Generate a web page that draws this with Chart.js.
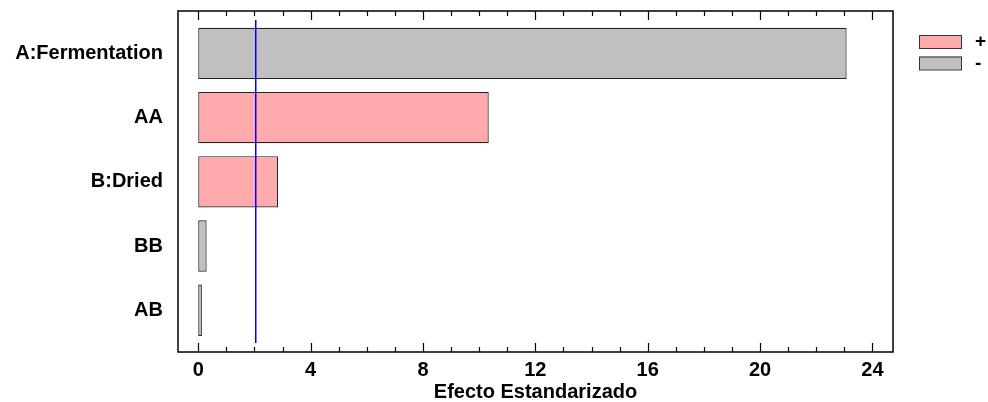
<!DOCTYPE html>
<html>
<head>
<meta charset="utf-8">
<script src="https://cdn.jsdelivr.net/npm/chart.js@4"></script>
<style>
  html, body { margin: 0; padding: 0; background: #fff; }
  #wrap { width: 988px; height: 402px; }
</style>
</head>
<body>
<div id="wrap"><canvas id="paretoChart" width="988" height="402"></canvas></div>
<script>
// factors, standardized effects (absolute) and their signs
const factors = ['A:Fermentation', 'AA', 'B:Dried', 'BB', 'AB'];
const effects = [23.08, 10.34, 2.84, 0.30, 0.13];
const signs = ['-', '+', '+', '-', '-'];
const criticalValue = 2.01;
const xTicks = [0, 4, 8, 12, 16, 20, 24];

const pinkColor = '#ffaaad';
const grayColor = '#c0c0c0';
const font = { family: 'Arial, "Liberation Sans", sans-serif', size: 20, weight: 'bold' };

// split into + and - datasets so each gets its own colour
const posData = [];
const negData = [];
factors.forEach(function(f, i) {
  if (signs[i] === '+') posData.push({ x: effects[i], y: i });
  else negData.push({ x: effects[i], y: i });
});

const framePlugin = {
  id: 'frame',
  afterDatasetsDraw(chart) {
    const ctx = chart.ctx;
    const a = chart.chartArea;
    const xs = chart.scales.x;
    ctx.save();
    // critical value line
    ctx.fillStyle = '#0000ff';
    const cx = Math.round(xs.getPixelForValue(criticalValue));
    ctx.fillRect(cx, a.top + 9, 1.5, a.bottom - a.top - 18);

    // frame
    ctx.strokeStyle = '#000';
    ctx.lineWidth = 1.5;
    ctx.strokeRect(a.left, a.top, a.right - a.left, a.bottom - a.top);

    // inward ticks, top and bottom
    ctx.lineWidth = 1.2;
    for (let v = 0; v <= 24; v++) {
      const px = Math.round(xs.getPixelForValue(v)) + 0.5;
      const len = (v % 4 === 0) ? 9 : 5;
      ctx.beginPath();
      ctx.moveTo(px, a.bottom);
      ctx.lineTo(px, a.bottom - len);
      ctx.moveTo(px, a.top);
      ctx.lineTo(px, a.top + len);
      ctx.stroke();
    }

    // legend
    const items = [{ label: '+', color: pinkColor }, { label: '-', color: grayColor }];
    ctx.font = 'bold 19px Arial, "Liberation Sans", sans-serif';
    ctx.textBaseline = 'middle';
    ctx.textAlign = 'left';
    items.forEach(function(it, i) {
      const y = 35 + i * 21.5;
      ctx.fillStyle = it.color;
      ctx.fillRect(919.5, y, 42, 13);
      ctx.strokeStyle = '#333';
      ctx.lineWidth = 1;
      ctx.strokeRect(919.5, y + 0.5, 42, 13);
      ctx.fillStyle = '#000';
      ctx.fillText(it.label, 975, y + 7);
    });
    ctx.restore();
  }
};

new Chart(document.getElementById('paretoChart'), {
  type: 'bar',
  data: {
    datasets: [
      {
        label: '+',
        data: posData,
        backgroundColor: pinkColor,
        borderColor: '#222',
        borderWidth: 1.2,
        borderSkipped: false
      },
      {
        label: '-',
        data: negData,
        backgroundColor: grayColor,
        borderColor: '#222',
        borderWidth: 1.2,
        borderSkipped: false
      }
    ]
  },
  options: {
    indexAxis: 'y',
    responsive: false,
    animation: false,
    grouped: false,
    barPercentage: 0.8,
    categoryPercentage: 1,
    layout: { padding: { top: 11, right: 95, left: 0, bottom: 0 } },
    plugins: {
      legend: { display: false },
      tooltip: { enabled: false }
    },
    scales: {
      x: {
        type: 'linear',
        min: -0.72,
        max: 24.73,
        grid: { display: false, drawTicks: false },
        border: { display: false },
        afterBuildTicks(scale) {
          scale.ticks = xTicks.map(function(v) { return { value: v }; });
        },
        afterFit(scale) { scale.height = 50; },
        ticks: { color: '#000', font: font, padding: 6, maxRotation: 0 },
        title: {
          display: true,
          text: 'Efecto Estandarizado',
          color: '#000',
          font: font,
          padding: { top: 0, bottom: -2 }
        }
      },
      y: {
        type: 'linear',
        reverse: true,
        offset: false,
        min: -0.66,
        max: 4.65,
        grid: { display: false, offset: false, drawTicks: false },
        border: { display: false },
        afterBuildTicks(scale) {
          scale.ticks = factors.map(function(f, i) { return { value: i }; });
        },
        afterFit(scale) {
          scale.width = 178;
          scale.paddingTop = 0;
          scale.paddingBottom = 0;
        },
        ticks: {
          color: '#000',
          font: font,
          padding: 15,
          callback: function(v) { return factors[v]; }
        }
      }
    }
  },
  plugins: [framePlugin]
});
</script>
</body>
</html>
